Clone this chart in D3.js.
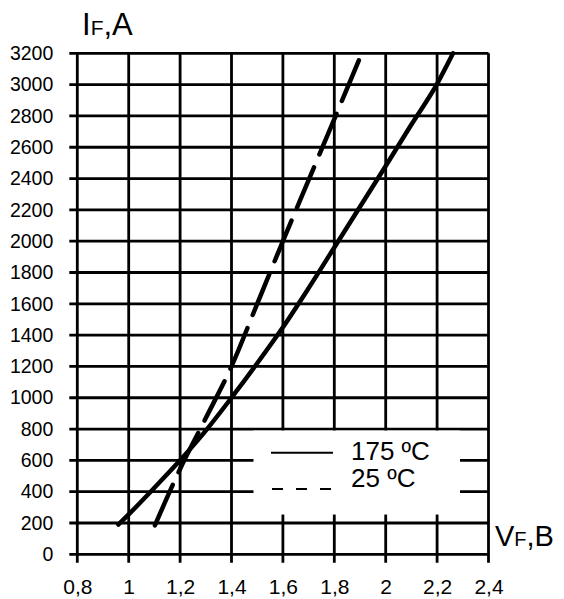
<!DOCTYPE html>
<html>
<head>
<meta charset="utf-8">
<script src="https://cdn.jsdelivr.net/npm/d3@7"></script>
<style>
  body { margin: 0; background: #fff; }
  text { font-family: "Liberation Sans", Arial, sans-serif; fill: #000; }
</style>
</head>
<body>
<svg id="chart" width="564" height="599"></svg>
<script>
// ------ data
var vTicks = [0.8, 1, 1.2, 1.4, 1.6, 1.8, 2, 2.2, 2.4];
var vTickLabels = ["0,8", "1", "1,2", "1,4", "1,6", "1,8", "2", "2,2", "2,4"];
var iTicks = [0, 200, 400, 600, 800, 1000, 1200, 1400, 1600, 1800, 2000, 2200, 2400, 2600, 2800, 3000, 3200];

// 175 ºC (solid)
var v175 = [0.96, 1.0, 1.1, 1.2, 1.3, 1.4, 1.5, 1.6, 1.7, 1.8, 1.9, 2.0, 2.1, 2.2, 2.262];
var i175 = [190, 255, 425, 600, 790, 1000, 1220, 1450, 1700, 1960, 2220, 2480, 2745, 3005, 3200];
// 25 ºC (dashed)
var v25 = [1.102, 1.2, 1.3, 1.4, 1.5, 1.6, 1.7, 1.8, 1.907];
var i25 = [185, 545, 870, 1200, 1600, 2000, 2390, 2780, 3200];

var legendNames = ["175 ºC", "25 ºC"];

// ------ scales
var x = d3.scaleLinear().domain([0.8, 2.4]).range([77.3, 488.5]);
var y = d3.scaleLinear().domain([0, 3200]).range([554.3, 53.3]);

var svg = d3.select("#chart");

// ------ grid (ticks run a bit outside the frame)
var grid = svg.append("g").attr("class", "grid")
  .style("stroke", "#000").style("stroke-width", 2.8);

grid.selectAll(".hline").data(iTicks).enter().append("line")
  .attr("class", "hline")
  .attr("x1", x(0.8) - 8).attr("x2", x(2.4))
  .attr("y1", d => y(d)).attr("y2", d => y(d));

grid.selectAll(".vline").data(vTicks).enter().append("line")
  .attr("class", "vline")
  .attr("x1", d => x(d)).attr("x2", d => x(d))
  .attr("y1", y(3200)).attr("y2", y(0) + 8.5);

// white patch under the legend
svg.append("rect")
  .attr("x", 253.5).attr("y", y(800) + 1.5)
  .attr("width", 206.5).attr("height", 84)
  .style("fill", "#fff");

// ------ axes, labels only
var xAxis = d3.axisBottom(x).tickValues(vTicks)
  .tickFormat((d, i) => vTickLabels[i]).tickSize(0).tickPadding(25);
var yAxis = d3.axisLeft(y).tickValues(iTicks)
  .tickFormat(d3.format("d")).tickSize(0).tickPadding(24);

var gx = svg.append("g").attr("transform", "translate(0," + y(0) + ")").call(xAxis);
var gy = svg.append("g").attr("transform", "translate(" + x(0.8) + ",0)").call(yAxis);
gx.select(".domain").remove();
gy.select(".domain").remove();
gx.selectAll("text").style("font-size", "21px").style("font-family", "'Liberation Sans', Arial, sans-serif");
gy.selectAll("text").style("font-size", "19.5px").style("font-family", "'Liberation Sans', Arial, sans-serif");

// ------ curves
var line = d3.line()
  .x(d => x(d[0]))
  .y(d => y(d[1]))
  .curve(d3.curveMonotoneX);

svg.append("path")
  .datum(d3.zip(v175, i175))
  .attr("d", line)
  .style("fill", "none").style("stroke", "#000")
  .style("stroke-width", 4.5).style("stroke-linecap", "round");

svg.append("path")
  .datum(d3.zip(v25, i25))
  .attr("d", line)
  .style("fill", "none").style("stroke", "#000")
  .style("stroke-width", 4.5).style("stroke-linecap", "round")
  .style("stroke-dasharray", "44,14");

// ------ legend
var legend = svg.append("g").attr("class", "legend");
legend.append("line")
  .attr("x1", 271).attr("x2", 333).attr("y1", 452.7).attr("y2", 452.7)
  .style("stroke", "#000").style("stroke-width", 2);
legend.append("line")
  .attr("x1", 272).attr("x2", 334).attr("y1", 489).attr("y2", 489)
  .style("stroke", "#000").style("stroke-width", 2)
  .style("stroke-dasharray", "11,13");
legend.selectAll(".legText").data(legendNames).enter().append("text")
  .attr("class", "legText")
  .attr("x", 351)
  .attr("y", (d, i) => i === 0 ? 459.5 : 487)
  .style("font-size", "26px")
  .text(d => d);

// ------ axis titles
var yTitle = svg.append("text").attr("x", 82).attr("y", 35).style("font-size", "31px");
yTitle.append("tspan").text("I");
yTitle.append("tspan").style("font-size", "21px").text("F");
yTitle.append("tspan").text(",A");

var xTitle = svg.append("text").attr("x", 495).attr("y", 546).style("font-size", "29px");
xTitle.append("tspan").text("V");
xTitle.append("tspan").style("font-size", "20px").text("F");
xTitle.append("tspan").text(",B");
</script>
</body>
</html>
